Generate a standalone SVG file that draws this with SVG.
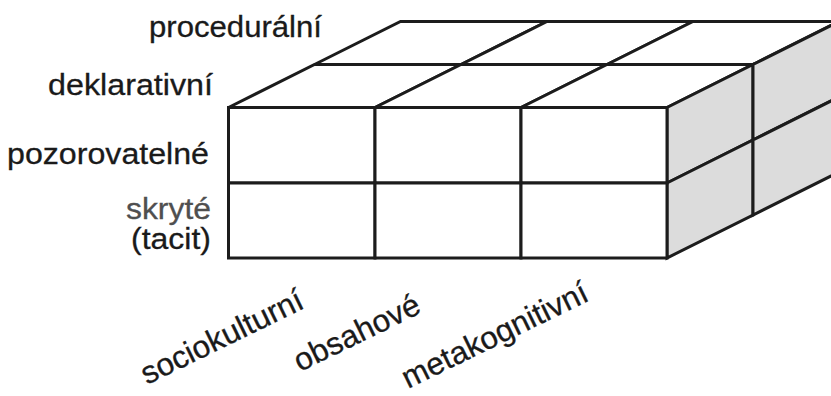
<svg xmlns="http://www.w3.org/2000/svg" width="831" height="396" viewBox="0 0 831 396">
  <style>
    .cell { fill: #ffffff; stroke: #1c1c1c; stroke-width: 3; stroke-linejoin: miter; }
    .side { fill: #dcdcdc; stroke: #1c1c1c; stroke-width: 3; stroke-linejoin: miter; }
    .lbl { font-family: "Liberation Sans", Arial, Helvetica, sans-serif; font-size: 30px; fill: #1a1a1a; stroke: #1a1a1a; stroke-width: 0.3; }
    .rot { font-size: 31.5px; }
    .muted { fill: #4f4f4f; stroke: #4f4f4f; }
  </style>

  <rect width="831" height="396" fill="#ffffff"/>

  <!-- top face: 3 columns x 2 depth layers -->
  <g id="top-face">
    <polygon class="cell" points="228.5,107.5 375,107.5 461,64.5 314.5,64.5"/>
    <polygon class="cell" points="375,107.5 521,107.5 607,64.5 461,64.5"/>
    <polygon class="cell" points="521,107.5 667,107.5 753,64.5 607,64.5"/>
    <polygon class="cell" points="314.5,64.5 461,64.5 547,21.5 400.5,21.5"/>
    <polygon class="cell" points="461,64.5 607,64.5 693,21.5 547,21.5"/>
    <polygon class="cell" points="607,64.5 753,64.5 839,21.5 693,21.5"/>
  </g>

  <!-- right side face: 2 rows x 2 depth layers -->
  <g id="side-face">
    <polygon class="side" points="667,107.5 753,64.5 753,140 667,183"/>
    <polygon class="side" points="753,64.5 839,21.5 839,97 753,140"/>
    <polygon class="side" points="667,183 753,140 753,215 667,258"/>
    <polygon class="side" points="753,140 839,97 839,172 753,215"/>
  </g>

  <!-- front face: 3 columns x 2 rows -->
  <g id="front-face">
    <rect class="cell" x="228.5" y="107.5" width="146.5" height="75.5"/>
    <rect class="cell" x="375" y="107.5" width="146" height="75.5"/>
    <rect class="cell" x="521" y="107.5" width="146" height="75.5"/>
    <rect class="cell" x="228.5" y="183" width="146.5" height="75"/>
    <rect class="cell" x="375" y="183" width="146" height="75"/>
    <rect class="cell" x="521" y="183" width="146" height="75"/>
  </g>

  <!-- depth layer labels -->
  <g id="depth-labels">
    <text class="lbl" x="149" y="37" textLength="173" lengthAdjust="spacingAndGlyphs">procedurální</text>
    <text class="lbl" x="48" y="95" textLength="165" lengthAdjust="spacingAndGlyphs">deklarativní</text>
  </g>

  <!-- row labels -->
  <g id="row-labels">
    <text class="lbl" x="7" y="163.5" textLength="202" lengthAdjust="spacingAndGlyphs">pozorovatelné</text>
    <text class="lbl muted" x="126" y="218.5" textLength="85" lengthAdjust="spacingAndGlyphs">skryté</text>
    <text class="lbl" x="131" y="249" textLength="80" lengthAdjust="spacingAndGlyphs">(tacit)</text>
  </g>

  <!-- column labels -->
  <g id="column-labels">
    <text class="lbl rot" transform="translate(147,385) rotate(-26)">sociokulturní</text>
    <text class="lbl rot" transform="translate(300,372) rotate(-26)">obsahové</text>
    <text class="lbl rot" transform="translate(408,389) rotate(-26)">metakognitivní</text>
  </g>
</svg>
